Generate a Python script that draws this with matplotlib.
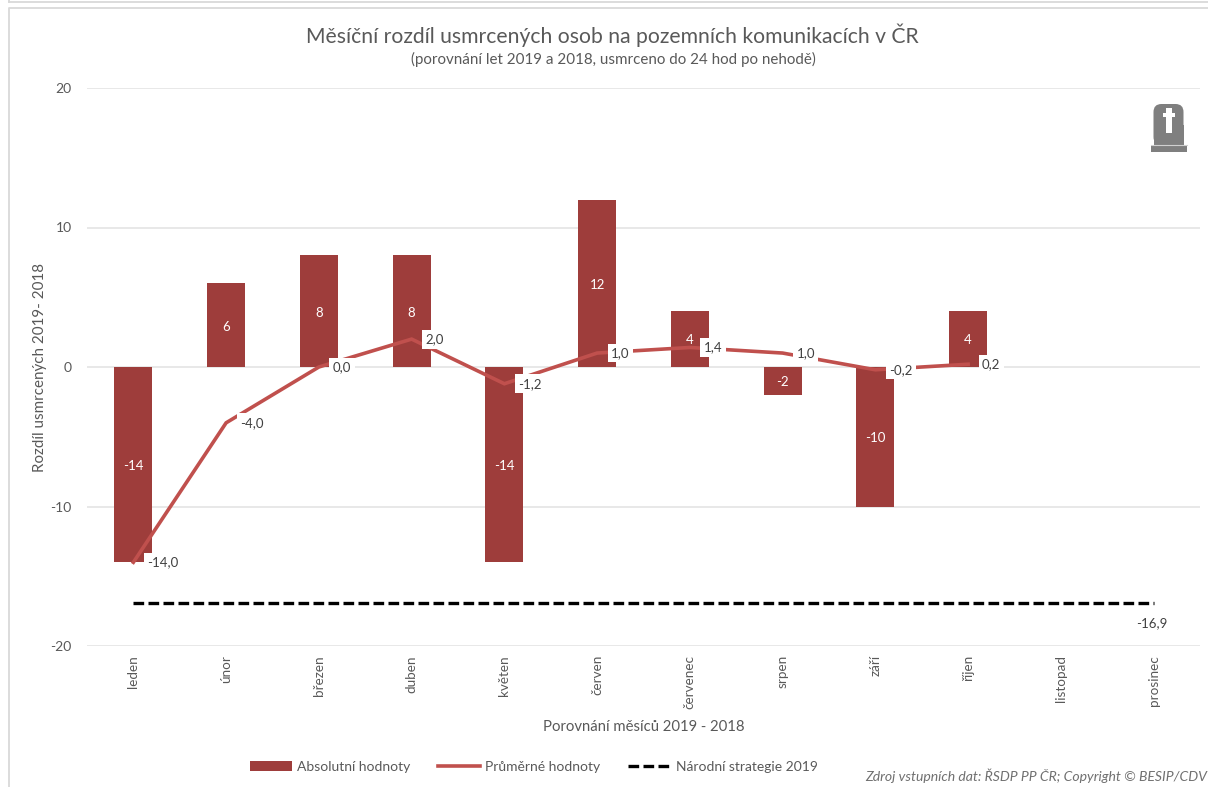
# -*- coding: utf-8 -*-
import matplotlib
matplotlib.use('Agg')
import matplotlib.pyplot as plt
from matplotlib.patches import Rectangle, FancyBboxPatch

plt.rcParams['font.family'] = ['Lato', 'DejaVu Sans']
plt.rcParams['axes.unicode_minus'] = False

mesice = ['leden', 'únor', 'březen', 'duben', 'květen', 'červen', 'červenec',
          'srpen', 'září', 'říjen', 'listopad', 'prosinec']
absolutni = [-14, 6, 8, 8, -14, 12, 4, -2, -10, 4]
prumerne = [-14.0, -4.0, 0.0, 2.0, -1.2, 1.0, 1.4, 1.0, -0.2, 0.2]
strategie = -16.9
yticks = [-20, -10, 0, 10, 20]

W, H = 1208, 787
SEDA = '#595959'
fig = plt.figure(figsize=(W / 100, H / 100), dpi=100)
ax = fig.add_axes([87 / W, (H - 646) / H, 1113 / W, 558 / H])

x_abs = range(len(absolutni))
x_all = range(len(mesice))

bary = ax.bar(x_abs, absolutni, width=0.41, color='#9E3D3B', label='Absolutní hodnoty', zorder=2)
cara, = ax.plot(x_abs, prumerne, color='#C0504D', lw=2.6, label='Průměrné hodnoty', zorder=3,
                solid_joinstyle='miter')
narodni, = ax.plot(x_all, [strategie] * len(mesice), color='black', lw=2.4, dashes=(3.2, 1.3),
                   label='Národní strategie 2019', zorder=3)

for i, v in enumerate(absolutni):
    ax.annotate(str(v), (i, v / 2), xytext=(0, -1), textcoords='offset points', color='white',
                fontsize=9.5, ha='center', va='center', zorder=4)

for i, v in enumerate(prumerne):
    txt = ('%.1f' % v).replace('.', ',')
    ax.annotate(txt, (i, v), xytext=(10, 0), textcoords='offset points', fontsize=9.5,
                color='#404040', ha='left', va='center', zorder=5,
                bbox=dict(facecolor='white', edgecolor='none', pad=2.5))
ax.annotate('-16,9', (11, strategie), xytext=(-1, -15), textcoords='offset points', fontsize=9.5,
            color='#404040', ha='center', va='center')

ax.set_xlim(-0.5, 11.5)
ax.set_ylim(-20, 20)
ax.set_yticks(yticks)
ax.set_xticks(list(x_all))
ax.set_xticklabels(mesice, rotation=90, fontsize=9.7, color=SEDA)
ax.tick_params(axis='both', length=0)
ax.tick_params(axis='y', labelsize=10, labelcolor=SEDA, pad=11)
ax.tick_params(axis='x', pad=6.5)
ax.grid(axis='y', color='#E2E2E2', lw=1.1, zorder=0)
ax.set_axisbelow(True)
for s in ax.spines.values():
    s.set_visible(False)

fig.text(612.5 / W, 1 - 35 / H, 'Měsíční rozdíl usmrcených osob na pozemních komunikacích v ČR',
         fontsize=15.2, color=SEDA, ha='center', va='center')
fig.text(613 / W, 1 - 59 / H, '(porovnání let 2019 a 2018, usmrceno do 24 hod po nehodě)',
         fontsize=10.9, color=SEDA, ha='center', va='center')
fig.text(40.5 / W, 1 - 367 / H, 'Rozdíl usmrcených 2019- 2018', fontsize=10.9, color=SEDA,
         rotation=90, ha='center', va='center')
fig.text(644 / W, 1 - 727 / H, 'Porovnání měsíců 2019 - 2018', fontsize=10.7, color=SEDA,
         ha='center', va='center')
fig.text(1207 / W, 1 - 776 / H, 'Zdroj vstupních dat: ŘSDP PP ČR; Copyright © BESIP/CDV',
         fontsize=10.1, style='italic', color='#707070', ha='right', va='center')

fig.legend(handles=[bary, cara, narodni], loc='center left', bbox_to_anchor=(250 / W, 1 - 767 / H),
           ncol=3, frameon=False, fontsize=10, labelcolor=SEDA, handlelength=3,
           handletextpad=0.4, columnspacing=2.0, borderpad=0, borderaxespad=0)

# ramecek a nahrobek, kresleno v pixelech obrazku
ov = fig.add_axes([0, 0, 1, 1], zorder=10)
ov.set_xlim(0, W)
ov.set_ylim(H, 0)
ov.axis('off')
ov.plot([8.5, 8.5, W], [H, 7.5, 7.5], color='#D9D9D9', lw=1.3)
ov.plot([8.5, W], [1.5, 1.5], color='#D9D9D9', lw=1.3)
ov.plot([8.5, 8.5], [0, 2], color='#D9D9D9', lw=1.3)

ov.add_patch(FancyBboxPatch((1153.5, 104), 30, 41, boxstyle='round,pad=0,rounding_size=8',
                            fc='#7F7F7F', ec='none'))
ov.add_patch(Rectangle((1153.5, 125), 30, 20, fc='#7F7F7F', ec='none'))
ov.add_patch(Rectangle((1151, 145), 36, 7, fc='#7F7F7F', ec='none'))
ov.plot([1151, 1187], [144.7, 144.7], color='#D0D0D0', lw=0.8)
ov.add_patch(Rectangle((1166, 108), 6, 25, fc='white', ec='none'))
ov.add_patch(Rectangle((1163, 113), 12, 4, fc='white', ec='none'))

fig.savefig('out.png', dpi=100)
